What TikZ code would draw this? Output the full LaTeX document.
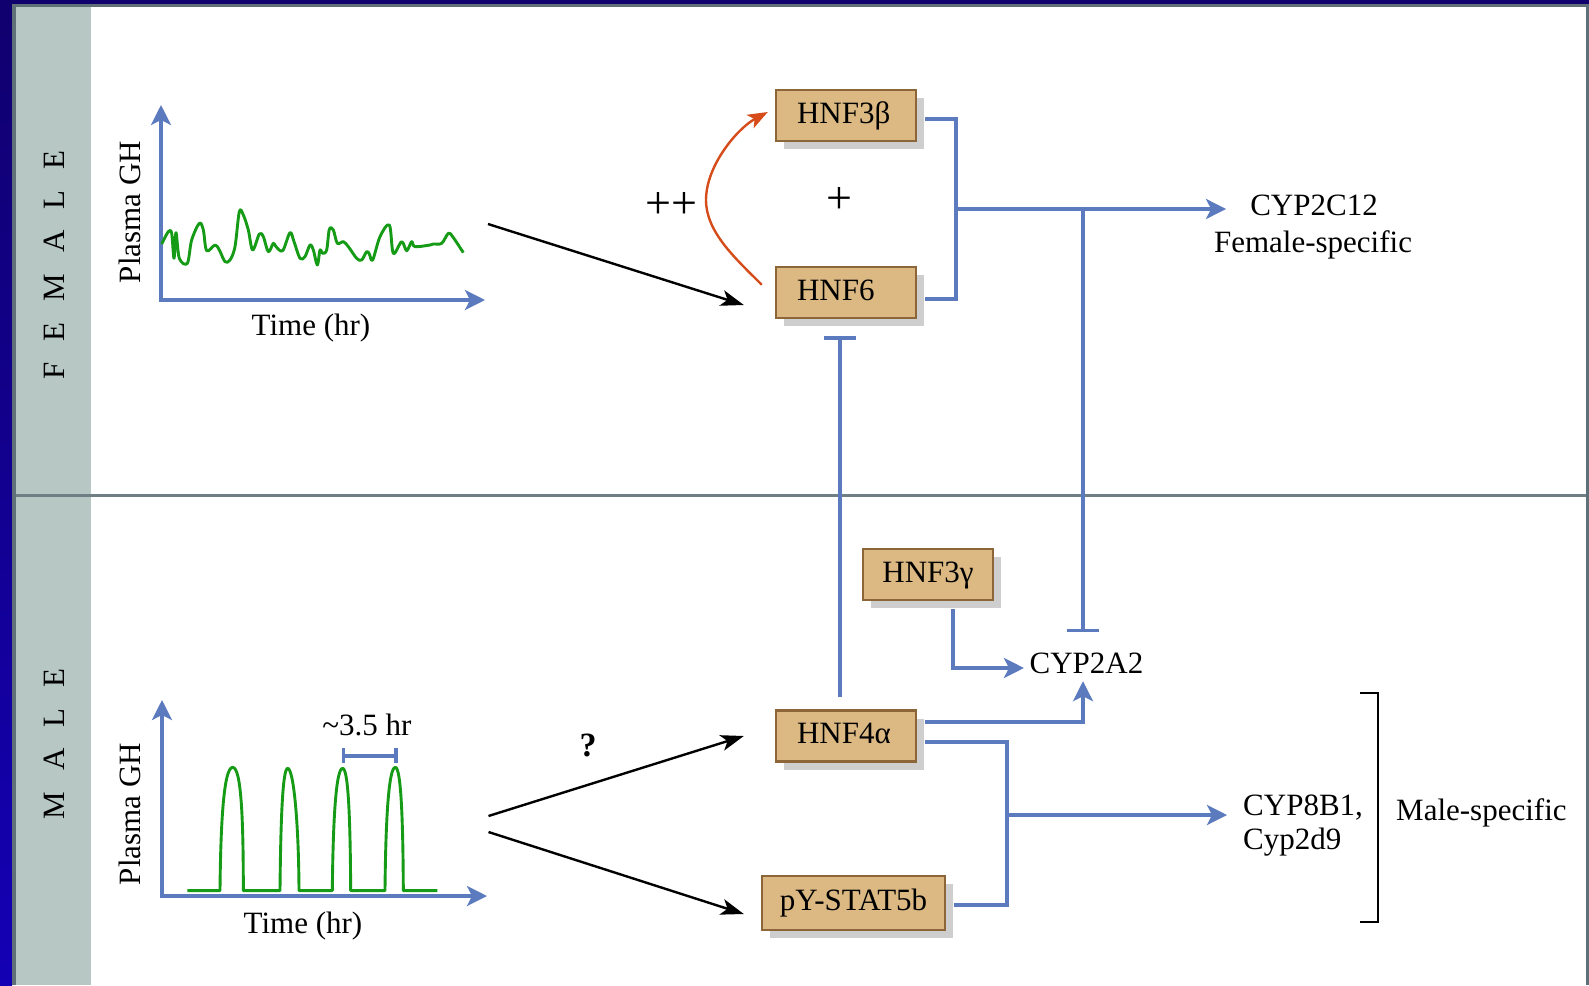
\documentclass[tikz,border=0pt]{standalone}
\usepackage{fontspec}
\setmainfont{Liberation Serif}
\usetikzlibrary{arrows.meta,shadows,calc}
\definecolor{bl}{RGB}{92,122,190}
\definecolor{grn}{RGB}{22,155,22}
\definecolor{redarr}{RGB}{214,76,26}
\definecolor{boxfill}{RGB}{220,185,131}
\definecolor{boxline}{RGB}{140,102,56}
\definecolor{shadowgray}{RGB}{206,206,206}
\definecolor{panel}{RGB}{183,199,195}
\definecolor{frame}{RGB}{96,112,120}
\definecolor{navytop}{RGB}{16,0,110}
\definecolor{navybot}{RGB}{20,0,180}
\begin{document}
\begin{tikzpicture}[x=1pt,y=-1pt,
  every node/.style={font=\fontsize{31}{36}\selectfont, inner sep=2pt},
  tfbox/.style={draw=boxline, line width=2.4pt, fill=boxfill, inner sep=0pt,
    minimum height=51pt, text height=22pt, text depth=7pt,
    drop shadow={shadow xshift=8pt, shadow yshift=-8pt, fill=shadowgray, opacity=1}},
  lbox/.style={tfbox, text width=98pt, align=left, inner xsep=21pt},
  blue line/.style={draw=bl, line width=3.3pt},
  blue arrow/.style={blue line, -{Stealth[length=20pt,width=20pt,inset=5pt]}},
  blue inhibit/.style={blue line, -{Bar[width=32pt]}},
  black arrow/.style={draw=black, line width=2.4pt, -{Stealth[length=23pt,width=16pt,inset=6pt]}},
  red arrow/.style={draw=redarr, line width=2.4pt, -{Stealth[length=20pt,width=15pt,inset=5pt]}},
  axis/.style={draw=bl, line width=3.3pt, {Stealth[length=20pt,width=20pt,inset=5pt]}-{Stealth[length=20pt,width=20pt,inset=5pt]}},
  pulse/.style={draw=grn, line width=2.9pt, line join=round},
  sign/.style={font=\fontsize{46}{50}\selectfont}
]
\useasboundingbox (0,0) rectangle (1589,985);
% frame and panels
\fill[white] (0,0) rectangle (1589,985);
\shade[top color=navytop, bottom color=navybot] (0,0) rectangle (12,985);
\fill[navytop] (0,0) rectangle (1589,3.5);
\fill[frame] (12,3.5) rectangle (1589,7);
\fill[frame] (12,3.5) rectangle (16,985);
\fill[frame] (1586,7) rectangle (1589,985);
\fill[panel] (16,7) rectangle (91,985);
\fill[frame!90] (16,494) rectangle (1586,497);

\node[rotate=90] (femlabel) at (54,265) {F\hspace{21pt}E\hspace{21pt}M\hspace{21pt}A\hspace{21pt}L\hspace{21pt}E};
\node[rotate=90] (malelabel) at (54,744) {M\hspace{21pt}A\hspace{21pt}L\hspace{21pt}E};

% female chart
\draw[axis] (161,105) -- (161,300) -- (485,300);
\node[rotate=90] (fyl) at (130,212) {Plasma GH};
\node[anchor=base] (fxl) at (311,335) {Time (hr)};
\begin{scope}[shift={(100,90)},x=0.33333pt,y=-0.33333pt]
\draw[pulse] plot[smooth,tension=0.55] coordinates {(185,462) (205,425) (215,430) (222,505) (228,428) (238,505) (262,520) (275,450) (298,400) (310,420) (320,482) (345,465) (358,480) (375,515) (390,510) (405,470) (418,365) (430,375) (445,420) (458,480) (478,432) (490,440) (505,485) (520,460) (528,470) (548,482) (570,428) (582,455) (600,505) (615,500) (630,465) (640,480) (652,525) (660,480) (668,490) (680,480) (688,418) (700,420) (712,460) (730,455) (745,470) (770,505) (785,510) (800,485) (808,492) (818,510) (840,440) (868,405) (880,490) (905,455) (920,482) (935,455) (945,470) (990,465) (1000,462) (1025,460) (1045,430) (1058,440) (1090,488)};
\end{scope}
\coordinate (fstart) at (488,224);

% male chart
\draw[axis] (162,700) -- (162,896) -- (487,896);
\node[rotate=90] (myl) at (130,814) {Plasma GH};
\node[anchor=base] (mxl) at (303,933) {Time (hr)};
\begin{scope}[shift={(100,680)},x=0.33333pt,y=-0.33333pt]
\draw[pulse] (262,632) -- (360,632)
  .. controls (362,420) and (372,262) .. (398,262)
  .. controls (424,262) and (430,420) .. (430,632) -- (540,632)
  .. controls (542,420) and (548,265) .. (563,265)
  .. controls (580,265) and (596,420) .. (597,632) -- (697,632)
  .. controls (699,420) and (708,265) .. (728,265)
  .. controls (745,265) and (751,420) .. (752,632) -- (855,632)
  .. controls (857,420) and (866,262) .. (886,262)
  .. controls (903,262) and (909,420) .. (910,632) -- (1012,632);
\draw[blue line] (730,228) -- (888,228);
\draw[blue line] (730,205) -- (730,250);
\draw[blue line] (888,205) -- (888,250);
\end{scope}
\node[anchor=base] (period) at (367,735) {\textasciitilde 3.5 hr};
\coordinate (mstartA) at (488.5,816);
\coordinate (mstartB) at (488.5,832);

% boxes
\node[lbox] (hnfb) at (846,115.5) {HNF3β};
\node[lbox] (hnf6) at (846,292.5) {HNF6};
\node[tfbox, minimum width=130pt] (hnfg) at (928,574.5) {HNF3γ};
\node[lbox] (hnfa) at (846,736) {HNF4α};
\node[tfbox, minimum width=183pt, minimum height=54pt] (stat) at (853.5,903) {pY-STAT5b};

% target texts
\node[anchor=base] (c12) at (1314,215) {CYP2C12};
\node[anchor=base] (fspec) at (1313,252) {Female-specific};
\node[anchor=base, inner sep=0pt, text height=21pt, text depth=0pt] (c2a2) at (1086.5,673) {CYP2A2};
\node[anchor=base west] (c8b1) at (1241,815) {CYP8B1,};
\node[anchor=base west] (c2d9) at (1241,849) {Cyp2d9};
\node[anchor=base west] (mspec) at (1394,820) {Male-specific};
\draw[black, line width=2.6pt] (1360,693) -- (1378,693) -- (1378,922) -- (1360,922);

% signs
\node[sign] (pp) at (671,206) {++};
\node[sign] (p) at (839,201) {+};
\node[font=\fontsize{34}{40}\selectfont\bfseries] (q) at (588,745) {?};

% black arrows
\draw[black arrow] (fstart) -- ([shift={(-31,12.5)}]hnf6.west);
\draw[black arrow] (mstartA) -- ([shift={(-31,0)}]hnfa.west);
\draw[black arrow] (mstartB) -- ([shift={(-17,11)}]stat.west);

% red curved arrow
\draw[red arrow] ([shift={(-13,19)}]hnf6.north west) .. controls (735,258) and (706,232) .. (706,200)
  .. controls (706,165) and (738,128) .. ([shift={(-7,-3.5)}]hnfb.west);

% female connectors
\coordinate (jf) at (956,209);
\coordinate (jm) at (1083,209);
\draw[blue line] ([shift={(8,3.5)}]hnfb.east) -| (jf);
\draw[blue line] ([shift={(8,6.5)}]hnf6.east) -| (jf);
\draw[blue line, line width=4.3pt] (jf) -- (jm);
\draw[blue arrow] (jm) -- ([xshift=-22pt]c12.west |- jm);
\draw[blue inhibit, shorten >=19.5pt] (jm) -- (jm |- c2a2.north);

% HNF4a inhibits HNF6
\draw[blue inhibit] ([shift={(-6,-12)}]hnfa.north) -- ([shift={(-6,17)}]hnf6.south);

% male connectors
\draw[blue arrow] ([shift={(25,8)}]hnfg.south) |- ([shift={(-5.5,5.5)}]c2a2.west);
\draw[blue arrow] ([shift={(8,-14)}]hnfa.east) -| ([shift={(-3.5,8)}]c2a2.south);
\coordinate (jmale) at (1007,815);
\draw[blue line] ([shift={(8,6)}]hnfa.east) -| (jmale);
\draw[blue line] ([shift={(8,2)}]stat.east) -| (jmale);
\draw[blue arrow] (jmale) -- ([xshift=-14pt]c8b1.west |- jmale);
\end{tikzpicture}
\end{document}
